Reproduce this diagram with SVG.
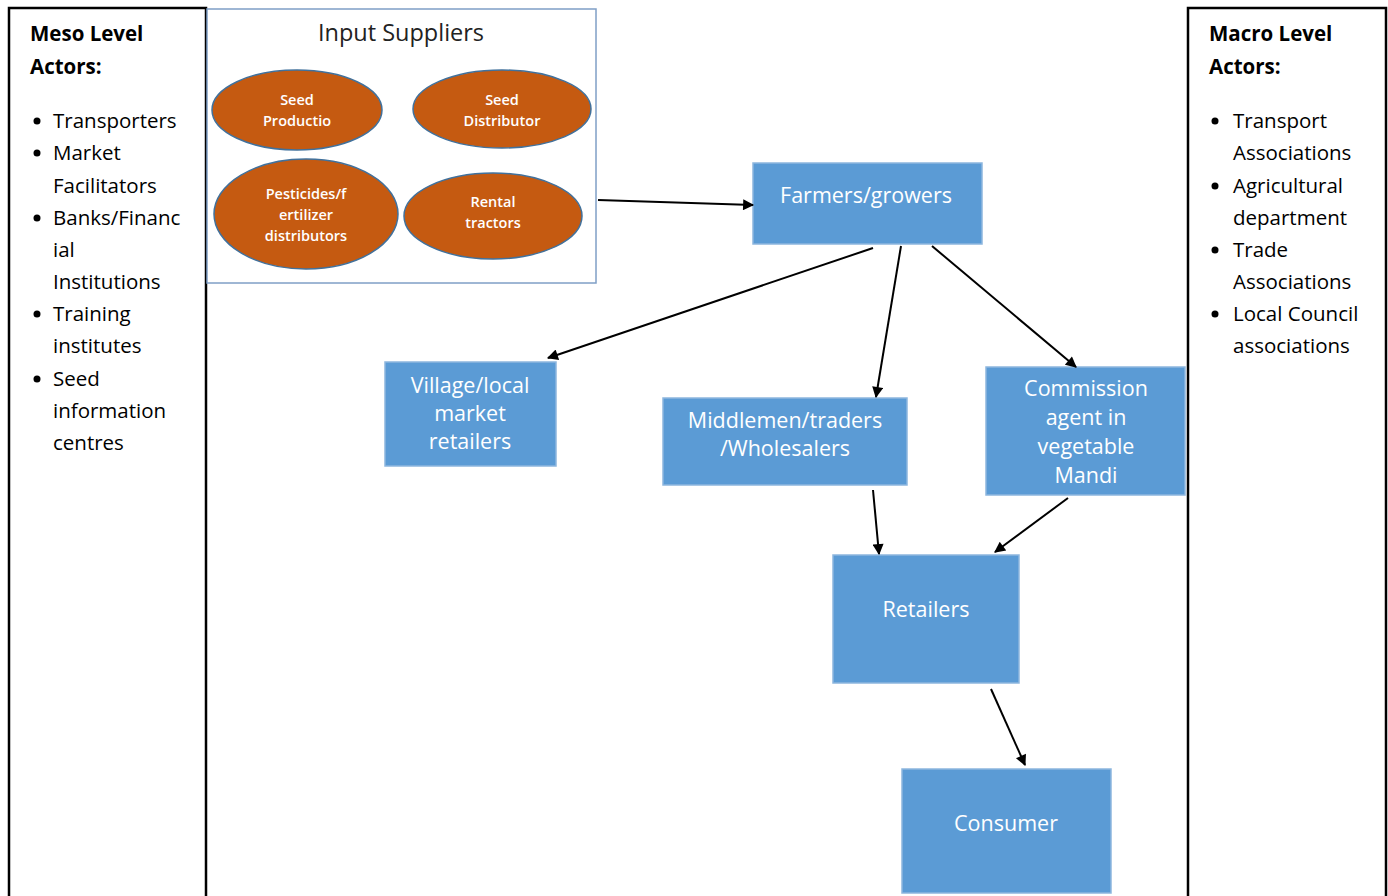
<svg xmlns="http://www.w3.org/2000/svg" width="1388" height="896" viewBox="0 0 1388 896">
  <style>
    .panel { fill: #ffffff; stroke: #000000; stroke-width: 2.5; }
    .group { fill: #ffffff; stroke: #7F9FC6; stroke-width: 1.5; }
    .oval { fill: #C55A11; stroke: #41719C; stroke-width: 1.5; }
    .box { fill: #5B9BD5; stroke: #8DB6DE; stroke-width: 1.5; }
    .side { font-family: "Open Sans", "Liberation Sans", sans-serif; font-size: 20.5px; fill: #000000; }
    .head { font-weight: bold; }
    .oval-t { font-family: "Open Sans", "Liberation Sans", sans-serif; font-size: 14.5px; font-weight: 600; fill: #ffffff; text-anchor: middle; }
    .box-t { font-family: "Open Sans", "Liberation Sans", sans-serif; font-size: 21.5px; fill: #ffffff; text-anchor: middle; }
    .title { font-family: "Open Sans", "Liberation Sans", sans-serif; font-size: 23.5px; fill: #222222; text-anchor: middle; }
    .link { stroke: #000000; stroke-width: 2; fill: none; marker-end: url(#arrow); }
  </style>
  <defs>
    <marker id="arrow" viewBox="0 0 10 10" refX="9" refY="5" markerWidth="13" markerHeight="11" markerUnits="userSpaceOnUse" orient="auto">
      <path d="M0,0 L10,5 L0,10 z" fill="#000000"/>
    </marker>
  </defs>
  <rect width="1388" height="896" fill="#ffffff"/>

  <!-- meso level actors panel -->
  <g id="meso">
    <rect class="panel" x="9" y="8" width="197" height="900"/>
    <text class="side head" x="30" y="41">Meso Level</text>
    <text class="side head" x="30" y="74">Actors:</text>
    <g class="side">
      <circle cx="37" cy="121" r="3.5"/><text x="53" y="128">Transporters</text>
      <circle cx="37" cy="153" r="3.5"/><text x="53" y="160">Market</text>
      <text x="53" y="193">Facilitators</text>
      <circle cx="37" cy="218" r="3.5"/><text x="53" y="225">Banks/Financ</text>
      <text x="53" y="257">ial</text>
      <text x="53" y="289">Institutions</text>
      <circle cx="37" cy="314" r="3.5"/><text x="53" y="321">Training</text>
      <text x="53" y="353">institutes</text>
      <circle cx="37" cy="379" r="3.5"/><text x="53" y="386">Seed</text>
      <text x="53" y="418">information</text>
      <text x="53" y="450">centres</text>
    </g>
  </g>

  <!-- macro level actors panel -->
  <g id="macro">
    <rect class="panel" x="1188" y="8" width="198" height="900"/>
    <text class="side head" x="1209" y="41">Macro Level</text>
    <text class="side head" x="1209" y="74">Actors:</text>
    <g class="side">
      <circle cx="1215" cy="121" r="3.5"/><text x="1233" y="128">Transport</text>
      <text x="1233" y="160">Associations</text>
      <circle cx="1215" cy="186" r="3.5"/><text x="1233" y="193">Agricultural</text>
      <text x="1233" y="225">department</text>
      <circle cx="1215" cy="250" r="3.5"/><text x="1233" y="257">Trade</text>
      <text x="1233" y="289">Associations</text>
      <circle cx="1215" cy="314" r="3.5"/><text x="1233" y="321">Local Council</text>
      <text x="1233" y="353">associations</text>
    </g>
  </g>

  <!-- input suppliers group -->
  <g id="input-suppliers">
    <rect class="group" x="207" y="9" width="389" height="274"/>
    <text class="title" x="401" y="41">Input Suppliers</text>
    <g id="seed-production">
      <ellipse class="oval" cx="297" cy="110" rx="85" ry="40"/>
      <text class="oval-t" x="297" y="105">Seed</text>
      <text class="oval-t" x="297" y="126">Productio</text>
    </g>
    <g id="seed-distributor">
      <ellipse class="oval" cx="502" cy="109" rx="89" ry="39"/>
      <text class="oval-t" x="502" y="105">Seed</text>
      <text class="oval-t" x="502" y="126">Distributor</text>
    </g>
    <g id="pesticides">
      <ellipse class="oval" cx="306" cy="214" rx="92" ry="55"/>
      <text class="oval-t" x="306" y="199">Pesticides/f</text>
      <text class="oval-t" x="306" y="220">ertilizer</text>
      <text class="oval-t" x="306" y="241">distributors</text>
    </g>
    <g id="rental-tractors">
      <ellipse class="oval" cx="493" cy="216" rx="89" ry="43"/>
      <text class="oval-t" x="493" y="207">Rental</text>
      <text class="oval-t" x="493" y="228">tractors</text>
    </g>
  </g>

  <g id="farmers">
    <rect class="box" x="753" y="163" width="229" height="81"/>
    <text class="box-t" x="866" y="203">Farmers/growers</text>
  </g>
  <g id="village">
    <rect class="box" x="385" y="362" width="171" height="104"/>
    <text class="box-t" x="470" y="393">Village/local</text>
    <text class="box-t" x="470" y="421">market</text>
    <text class="box-t" x="470" y="449">retailers</text>
  </g>
  <g id="middlemen">
    <rect class="box" x="663" y="398" width="244" height="87"/>
    <text class="box-t" x="785" y="428">Middlemen/traders</text>
    <text class="box-t" x="785" y="456">/Wholesalers</text>
  </g>
  <g id="commission">
    <rect class="box" x="986" y="367" width="199" height="128"/>
    <text class="box-t" x="1086" y="396">Commission</text>
    <text class="box-t" x="1086" y="425">agent in</text>
    <text class="box-t" x="1086" y="454">vegetable</text>
    <text class="box-t" x="1086" y="483">Mandi</text>
  </g>
  <g id="retailers">
    <rect class="box" x="833" y="555" width="186" height="128"/>
    <text class="box-t" x="926" y="617">Retailers</text>
  </g>
  <g id="consumer">
    <rect class="box" x="902" y="769" width="209" height="124"/>
    <text class="box-t" x="1006" y="831">Consumer</text>
  </g>

  <!-- flow connectors -->
  <g id="connectors">
    <line class="link" x1="598" y1="200" x2="753" y2="205"/>
    <line class="link" x1="873" y1="248" x2="548" y2="358"/>
    <line class="link" x1="901" y1="246" x2="876" y2="397"/>
    <line class="link" x1="932" y1="246" x2="1076" y2="367"/>
    <line class="link" x1="873" y1="490" x2="879" y2="554"/>
    <line class="link" x1="1068" y1="498" x2="995" y2="552"/>
    <line class="link" x1="991" y1="689" x2="1025" y2="765"/>
  </g>
</svg>
